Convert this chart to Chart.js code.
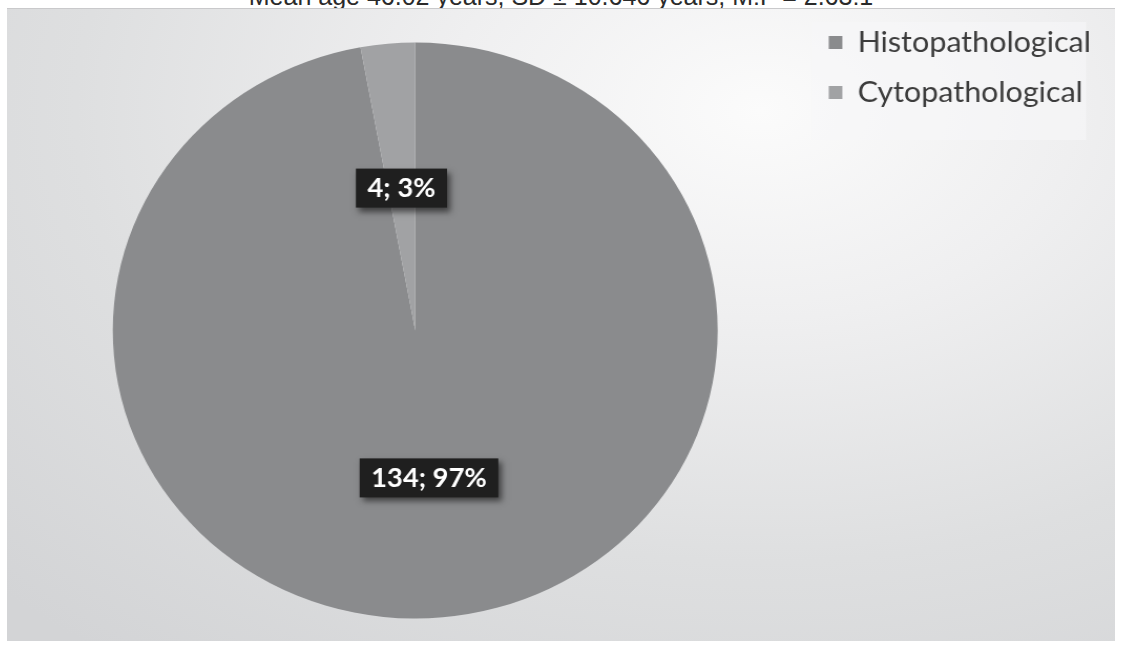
<!DOCTYPE html>
<html lang="en">
<head>
<meta charset="UTF-8">
<title>Diagnosis method</title>
<script src="https://cdn.jsdelivr.net/npm/chart.js"></script>
<style>
    html, body { margin: 0; padding: 0; background: #ffffff; }
    body { width: 1122px; height: 645px; position: relative; overflow: hidden; }
    #titolo {
        position: absolute; left: 0; top: -16px; width: 1122px;
        text-align: center; font-family: "Liberation Sans", Arial, sans-serif;
        font-size: 25px; line-height: 25px; color: #2a2a2a;
    }
    #box {
        position: absolute; left: 7px; top: 8px; width: 1108px; height: 632px;
        overflow: hidden; border-top: 1px solid #c9c9cb;
        background: radial-gradient(ellipse 95% 110% at 68% 16%, #fbfbfb 0%, #efeff0 30%, #dedfe0 65%, #d3d4d6 100%);
    }
    #stretch {
        position: absolute; left: 0; top: -2px; width: 1055px; height: 647px;
        transform: scaleX(1.0502); transform-origin: 0 0;
    }
</style>
</head>
<body>
<div id="titolo">Mean age 46.02 years, SD ± 10.646 years, M:F = 2.63:1</div>
<div id="box">
    <div id="stretch"><canvas id="torta"></canvas></div>
</div>
<script>
    // dati
    const categorie = ["Histopathological", "Cytopathological"];
    const valori = [134, 4];
    const percentuali = [97, 3];
    const colori = ["#8a8b8d", "#a1a2a4"];

    // sfondo chiaro dietro la legenda
    const sfondoLegenda = {
        id: "sfondoLegenda",
        beforeDraw(chart) {
            const lg = chart.legend;
            if (!lg) return;
            const ctx = chart.ctx;
            ctx.save();
            ctx.fillStyle = "rgba(247,247,248,0.6)";
            ctx.fillRect(lg.left + 4, 15, 262, 118);
            ctx.restore();
        }
    };

    // etichette scure con ombra
    const etichette = {
        id: "etichette",
        afterDatasetsDraw(chart) {
            const ctx = chart.ctx;
            const meta = chart.getDatasetMeta(0);
            ctx.save();
            ctx.font = "bold 26px Lato, 'Open Sans', sans-serif";
            ctx.textAlign = "center";
            ctx.textBaseline = "middle";
            meta.data.forEach((arc, i) => {
                const p = arc.tooltipPosition();
                const testo = valori[i] + "; " + percentuali[i] + "%";
                const w = ctx.measureText(testo).width + 22;
                const h = 39;
                const y = p.y + (i === 0 ? 4 : 1);
                ctx.shadowColor = "rgba(0,0,0,0.55)";
                ctx.shadowBlur = 6;
                ctx.shadowOffsetX = 3;
                ctx.shadowOffsetY = 4;
                ctx.fillStyle = "#1f1f1f";
                ctx.fillRect(p.x - w / 2, y - h / 2, w, h);
                ctx.shadowColor = "transparent";
                ctx.fillStyle = "#ffffff";
                ctx.fillText(testo, p.x, y + 1);
            });
            ctx.restore();
        }
    };

    const ctx = document.getElementById("torta").getContext("2d");
    new Chart(ctx, {
        type: "pie",
        data: {
            labels: categorie,
            datasets: [{
                data: valori,
                backgroundColor: colori,
                borderWidth: 0,
                radius: 288
            }]
        },
        options: {
            responsive: true,
            maintainAspectRatio: false,
            animation: false,
            layout: { padding: { top: 0, bottom: 0, left: 16, right: 13 } },
            plugins: {
                tooltip: { enabled: false },
                legend: {
                    position: "right",
                    align: "start",
                    labels: {
                        boxWidth: 13,
                        boxHeight: 13,
                        padding: 21,
                        color: "#3c3c3c",
                        font: { family: "Lato", size: 29 }
                    }
                }
            }
        },
        plugins: [sfondoLegenda, etichette]
    });
</script>
</body>
</html>
